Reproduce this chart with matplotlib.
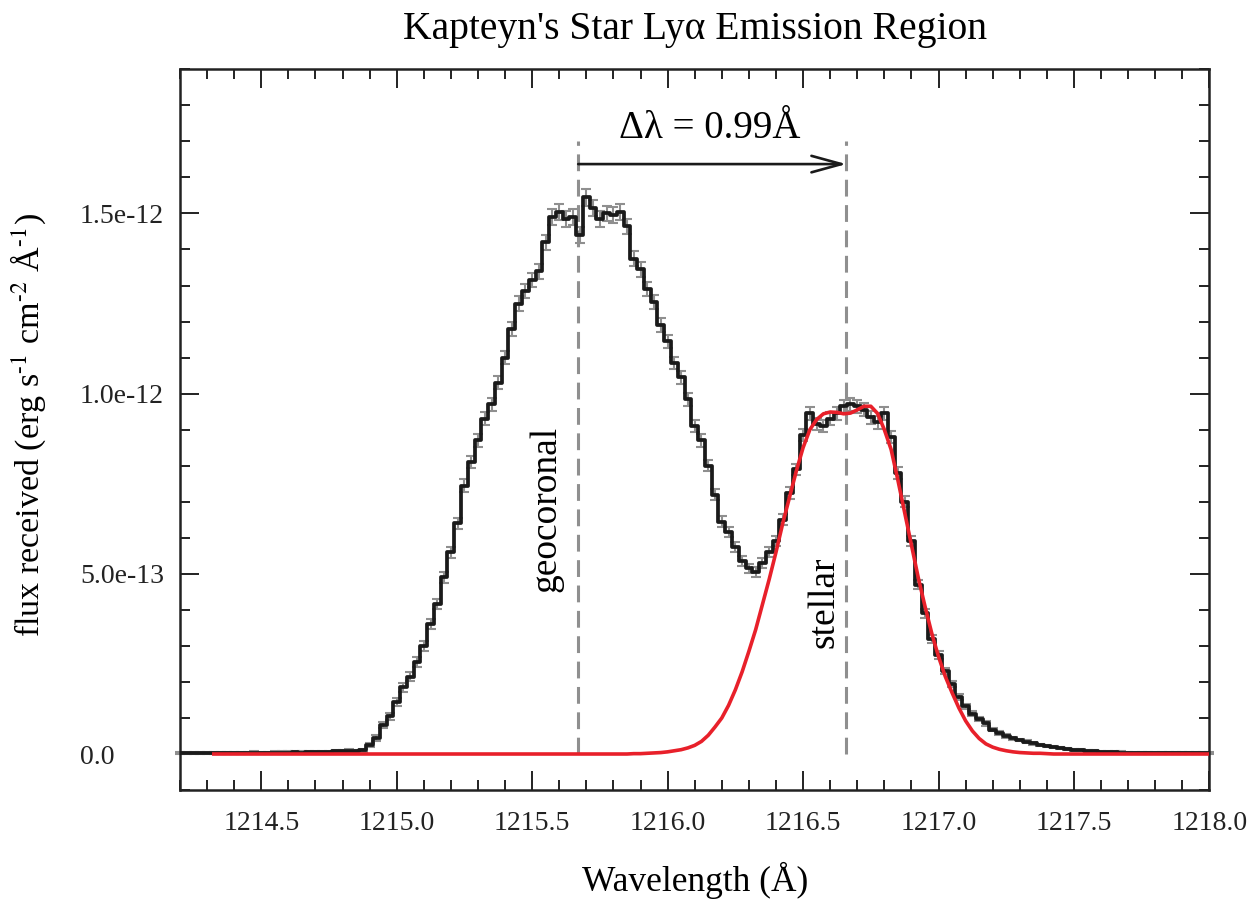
import numpy as np
import matplotlib
matplotlib.use("Agg")
import matplotlib.pyplot as plt
from matplotlib.ticker import MultipleLocator, FixedLocator, FuncFormatter

plt.rcParams['font.family'] = ['Liberation Serif', 'DejaVu Serif']
plt.rcParams['mathtext.fontset'] = 'stix'

# observed spectrum, sampled every 0.025 A starting at 1214.2 (flux in 1e-12 units)
obs_start = 1214.2
obs_step = 0.025
obs_flux = [
    0.002, 0.002, 0.003, 0.002, 0.002, 0.003, 0.003, 0.003, 0.002, 0.003,  # 1214.200
    0.003, 0.004, 0.003, 0.003, 0.004, 0.004, 0.004, 0.005, 0.004, 0.005,  # 1214.450
    0.005, 0.006, 0.006, 0.007, 0.008, 0.009, 0.008, 0.010, 0.025, 0.045,  # 1214.700
    0.080, 0.105, 0.145, 0.185, 0.215, 0.255, 0.300, 0.360, 0.415, 0.490,  # 1214.950
    0.560, 0.640, 0.745, 0.810, 0.870, 0.930, 0.970, 1.030, 1.100, 1.180,  # 1215.200
    1.250, 1.285, 1.315, 1.340, 1.420, 1.490, 1.505, 1.485, 1.490, 1.440,  # 1215.450
    1.545, 1.515, 1.485, 1.500, 1.495, 1.505, 1.465, 1.375, 1.345, 1.290,  # 1215.700
    1.255, 1.190, 1.145, 1.085, 1.045, 0.985, 0.910, 0.870, 0.800, 0.720,  # 1215.950
    0.645, 0.615, 0.575, 0.535, 0.515, 0.505, 0.530, 0.560, 0.590, 0.650,  # 1216.200
    0.725, 0.790, 0.885, 0.945, 0.915, 0.910, 0.930, 0.945, 0.965, 0.970,  # 1216.450
    0.965, 0.955, 0.935, 0.920, 0.945, 0.880, 0.780, 0.700, 0.590, 0.470,  # 1216.700
    0.390, 0.320, 0.275, 0.230, 0.194, 0.158, 0.133, 0.112, 0.098, 0.085,  # 1216.950
    0.068, 0.058, 0.050, 0.044, 0.039, 0.034, 0.030, 0.026, 0.022, 0.019,  # 1217.200
    0.016, 0.013, 0.011, 0.010, 0.008, 0.007, 0.006, 0.005, 0.005, 0.004,  # 1217.450
    0.003, 0.003, 0.003, 0.003, 0.002, 0.002, 0.002, 0.002, 0.002, 0.002,  # 1217.700
    0.002, 0.002, 0.002,                                                   # 1217.950
]
obs_err = [
    0.003, 0.003, 0.003, 0.003, 0.003, 0.003, 0.003, 0.003, 0.003, 0.003,
    0.003, 0.003, 0.003, 0.003, 0.003, 0.003, 0.003, 0.003, 0.003, 0.003,
    0.003, 0.003, 0.003, 0.003, 0.004, 0.004, 0.004, 0.004, 0.006, 0.008,
    0.009, 0.010, 0.011, 0.012, 0.012, 0.013, 0.013, 0.014, 0.014, 0.015,
    0.015, 0.016, 0.017, 0.017, 0.017, 0.018, 0.018, 0.018, 0.019, 0.019,
    0.020, 0.020, 0.020, 0.021, 0.021, 0.022, 0.022, 0.022, 0.022, 0.022,
    0.023, 0.022, 0.022, 0.022, 0.022, 0.022, 0.021, 0.021, 0.020, 0.020,
    0.020, 0.019, 0.019, 0.018, 0.018, 0.018, 0.017, 0.017, 0.016, 0.015,
    0.015, 0.014, 0.014, 0.014, 0.013, 0.013, 0.014, 0.014, 0.014, 0.015,
    0.016, 0.016, 0.017, 0.018, 0.017, 0.017, 0.018, 0.018, 0.018, 0.018,
    0.018, 0.018, 0.018, 0.017, 0.018, 0.017, 0.016, 0.015, 0.014, 0.013,
    0.012, 0.011, 0.010, 0.009, 0.009, 0.008, 0.007, 0.007, 0.006, 0.006,
    0.005, 0.005, 0.005, 0.004, 0.004, 0.004, 0.004, 0.003, 0.003, 0.003,
    0.003, 0.003, 0.003, 0.003, 0.003, 0.003, 0.003, 0.003, 0.003, 0.003,
    0.003, 0.003, 0.003, 0.003, 0.003, 0.003, 0.003, 0.003, 0.003, 0.003,
    0.003, 0.003, 0.003,
]

# stellar model, sampled every 0.025 A starting at 1214.325
model_start = 1214.325
model_step = 0.025
model_flux = [0.0] * 61 + [
    0.000, 0.001, 0.001, 0.002, 0.003, 0.004, 0.006, 0.009, 0.012, 0.017,  # 1215.850
    0.024, 0.035, 0.052, 0.075, 0.100, 0.135, 0.178, 0.228, 0.285, 0.345,  # 1216.100
    0.415, 0.485, 0.560, 0.640, 0.712, 0.785, 0.850, 0.900, 0.928, 0.944,  # 1216.350
    0.949, 0.948, 0.944, 0.946, 0.955, 0.965, 0.965, 0.945, 0.900, 0.845,  # 1216.600
    0.760, 0.670, 0.580, 0.490, 0.410, 0.335, 0.270, 0.215, 0.170, 0.128,  # 1216.850
    0.092, 0.064, 0.043, 0.028, 0.019, 0.013, 0.009, 0.006, 0.004, 0.003,  # 1217.100
    0.002, 0.002, 0.001,                                                   # 1217.350
] + [0.0] * 24

x_ticks = [1214.5, 1215.0, 1215.5, 1216.0, 1216.5, 1217.0, 1217.5, 1218.0]
y_ticks = [0.0, 0.5e-12, 1.0e-12, 1.5e-12]

geo_line = 1215.67
star_line = 1216.66
marker_top = 1.70   # 1e-12
arrow_y = 1.637     # 1e-12

obs_wave = obs_start + obs_step * np.arange(len(obs_flux))
model_wave = model_start + model_step * np.arange(len(model_flux))
obs_f = np.array(obs_flux) * 1e-12
obs_e = np.array(obs_err) * 1e-12
mod_f = np.array(model_flux) * 1e-12

fig = plt.figure(figsize=(12.55, 8.99), dpi=100)
ax = fig.add_axes([0.1434, 0.1212, 0.8203, 0.8017])

gray = '#8f8f8f'
ax.vlines([geo_line, star_line], 0, marker_top * 1e-12, colors=gray,
          linestyles=(0, (5.5, 2.8)), lw=2.2, zorder=1)

eb = ax.errorbar(obs_wave, obs_f, yerr=obs_e, fmt='none', ecolor=gray,
                 elinewidth=1.5, capsize=3.8, capthick=1.5, zorder=2)
for art in eb.lines[1] + eb.lines[2]:
    art.set_clip_on(False)
ax.plot(obs_wave, obs_f, drawstyle='steps-mid', color='#1a1a1a', lw=2.7, zorder=3)
ax.plot(model_wave, mod_f, color='#e8202a', lw=2.6, zorder=4)

ax.annotate('', xy=(star_line, arrow_y * 1e-12), xytext=(geo_line, arrow_y * 1e-12),
            arrowprops=dict(arrowstyle='->, head_length=0.8, head_width=0.22',
                            lw=1.9, color='#1a1a1a', mutation_scale=27,
                            shrinkA=0, shrinkB=0))
ax.text(1216.155, 1.735e-12, 'Δλ = 0.99Å', ha='center', va='center', fontsize=28)
ax.text(1215.553, 0.68e-12, 'geocoronal', rotation=90, ha='center', va='center',
        fontsize=27)
ax.text(1216.577, 0.42e-12, 'stellar', rotation=90, ha='center', va='center',
        fontsize=27)

ax.set_xlim(1214.2, 1218.0)
ax.set_ylim(-0.1e-12, 1.9e-12)
ax.xaxis.set_major_locator(FixedLocator(x_ticks))
ax.xaxis.set_minor_locator(MultipleLocator(0.1))
ax.yaxis.set_major_locator(FixedLocator(y_ticks))
ax.yaxis.set_minor_locator(MultipleLocator(0.1e-12))
ax.xaxis.set_major_formatter(FuncFormatter(lambda v, p: f'{v:.1f}'))
ax.yaxis.set_major_formatter(FuncFormatter(lambda v, p: '0.0' if abs(v) < 1e-20 else f'{v:.1e}'))

ax.tick_params(which='both', direction='in', top=True, right=True,
               width=1.4, colors='#222222', labelsize=20)
ax.tick_params(which='major', length=14)
ax.tick_params(which='minor', length=7)
ax.tick_params(axis='x', pad=15)
ax.tick_params(axis='y', pad=72)
for lab in ax.get_yticklabels():
    lab.set_horizontalalignment('left')
for s in ax.spines.values():
    s.set_linewidth(1.8)
    s.set_color('#222222')

ax.set_xlabel('Wavelength (Å)', fontsize=25.5)
ax.xaxis.set_label_coords(0.5, -0.1)
ax.set_ylabel(r'flux received (erg s$^{\text{-1}}$ cm$^{\text{-2}}$ Å$^{\text{-1}}$)',
              fontsize=24.5)
ax.yaxis.set_label_coords(-0.128, 0.506)
ax.set_title("Kapteyn's Star Lyα Emission Region", fontsize=28.5, pad=22)

fig.savefig('out.png', dpi=100)
